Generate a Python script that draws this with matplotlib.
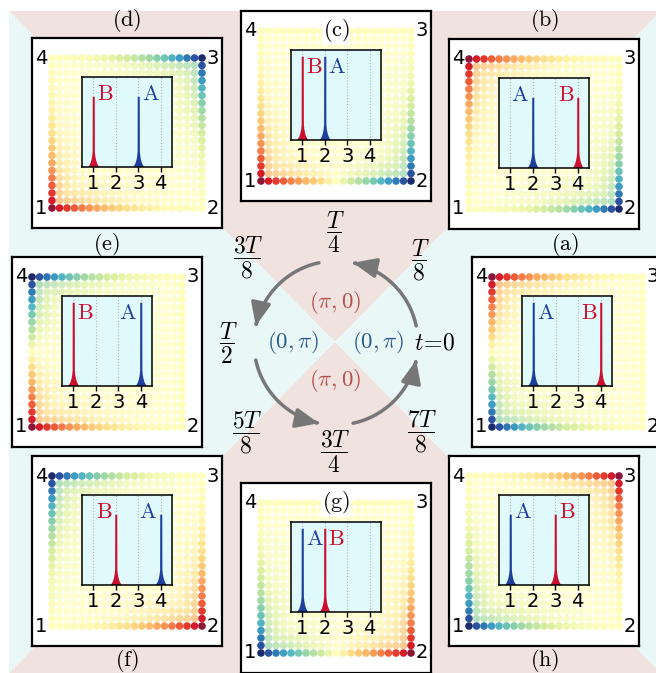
import numpy as np
import matplotlib
matplotlib.use('Agg')
import matplotlib.pyplot as plt
from matplotlib.colors import LinearSegmentedColormap, Normalize
from matplotlib.patches import Polygon, FancyArrowPatch
from matplotlib.path import Path

plt.rcParams['mathtext.fontset'] = 'cm'

# ---------------- data ----------------
panel_names = ['a', 'b', 'c', 'd', 'e', 'f', 'g', 'h']
pos_A = [1, 2, 2, 3, 4, 4, 1, 1]          # site of peak A (blue)
pos_B = [4, 4, 1, 1, 1, 2, 2, 3]          # site of peak B (red)
peak_height = [0.925, 0.78, 0.925, 0.78, 0.925, 0.78, 0.925, 0.78]
side_A = ['right', 'left', 'right', 'right', 'left', 'left', 'right', 'right']
side_B = ['left', 'left', 'right', 'right', 'right', 'left', 'right', 'right']
tick_labels = ['1', '2', '3', '4']
corner_labels = ['1', '2', '3', '4']

# edge colour profile from a corner along the edge
edge_profile = [1.0, 0.84, 0.74, 0.63, 0.53, 0.44, 0.36, 0.29, 0.23, 0.18, 0.14,
                0.11, 0.08, 0.06, 0.045, 0.03, 0.02, 0.015, 0.01, 0.005, 0.0]
ring_atten = [1.0, 0.32, 0.16, 0.08, 0.04]

# spike shape (half-width offsets and heights, fraction of inset)
spike_dx = [0.0, 0.045, 0.05, 0.07, 0.10, 0.14, 0.19, 0.24]
spike_base = [None, None, 0.17, 0.12, 0.08, 0.045, 0.02, 0.0]

cycle_texts = [r'$t\!=\!0$', r'$\dfrac{T}{8}$', r'$\dfrac{T}{4}$', r'$\dfrac{3T}{8}$',
               r'$\dfrac{T}{2}$', r'$\dfrac{5T}{8}$', r'$\dfrac{3T}{4}$', r'$\dfrac{7T}{8}$']
cycle_xy = [(435, 343), (420, 260), (335, 232), (248, 258),
            (228, 343), (247, 433), (335, 452), (422, 432)]
arc_ranges = [(12, 78), (102, 168), (192, 258), (282, 348)]

# ---------------- layout ----------------
W, H = 656, 673
fig = plt.figure(figsize=(W / 100, H / 100), dpi=100)

frame_lt = {'a': (472, 257), 'b': (449, 39), 'c': (241, 11), 'd': (32, 38),
            'e': (12, 257), 'f': (32, 456), 'g': (241, 483), 'h': (449, 456)}
title_xy = {'a': (565, 244), 'b': (545, 21), 'd': (127, 21), 'e': (106, 245),
            'f': (127, 660), 'h': (545, 660)}
FS = 190  # frame size px

PINK = '#f0e2de'
CYAN = '#eaf7f7'
BLUE = '#1f3f9f'
RED = '#cc1030'

cmap = LinearSegmentedColormap.from_list('edge', [
    (0.0, '#1d2a6b'), (0.075, '#2b4f9e'), (0.15, '#3288bd'), (0.225, '#4bb0c6'),
    (0.3, '#7bcbae'), (0.375, '#b0dea3'), (0.45, '#e2f2a0'), (0.5, '#ffffbf'),
    (0.56, '#fee590'), (0.65, '#fdbb6a'), (0.75, '#f7844c'), (0.85, '#e8452e'),
    (0.925, '#d2192b'), (1.0, '#8c1538')])
norm = Normalize(-1, 1)

# background
bg = fig.add_axes([0, 0, 1, 1])
bg.set_xlim(0, W)
bg.set_ylim(H, 0)
bg.axis('off')
x0s, x1s, y0s, y1s = 9, 661, 11, 673
cxs, cys = (x0s + x1s) / 2, (y0s + y1s) / 2
bg.add_patch(Polygon([(x0s, y0s), (x1s, y0s), (cxs, cys)], fc=PINK, ec='none'))
bg.add_patch(Polygon([(x0s, y1s), (x1s, y1s), (cxs, cys)], fc=PINK, ec='none'))
bg.add_patch(Polygon([(x0s, y0s), (x0s, y1s), (cxs, cys)], fc=CYAN, ec='none'))
bg.add_patch(Polygon([(x1s, y0s), (x1s, y1s), (cxs, cys)], fc=CYAN, ec='none'))

# central cycle
cx, cy, R = 336, 343, 82
for a0, a1 in arc_ranges:
    t = np.radians(np.linspace(a0, a1, 60))
    verts = np.column_stack([cx + R * np.cos(t), cy - R * np.sin(t)])
    arr = FancyArrowPatch(path=Path(verts),
                          arrowstyle='-|>,head_length=0.7,head_width=0.3',
                          mutation_scale=20, color='#777777', lw=2.5)
    bg.add_patch(arr)
for txt, (x, y) in zip(cycle_texts, cycle_xy):
    bg.text(x, y, txt, ha='center', va='center', fontsize=17)
bg.text(335, 303, r'$(\pi,0)$', color='#b45050', ha='center', va='center', fontsize=16.5)
bg.text(335, 381, r'$(\pi,0)$', color='#b45050', ha='center', va='center', fontsize=16.5)
bg.text(293, 343, r'$(0,\pi)$', color='#2a5a8c', ha='center', va='center', fontsize=16.5)
bg.text(378, 343, r'$(0,\pi)$', color='#2a5a8c', ha='center', va='center', fontsize=16.5)

corner_xy = {1: (0, 0), 2: (20, 0), 3: (20, 20), 4: (0, 20)}
N = 21


def corner_field(c):
    cxg, cyg = corner_xy[c]
    f = np.zeros((N, N))
    for i in range(N):
        for j in range(N):
            k = min(i, j, 20 - i, 20 - j)
            if k >= len(ring_atten):
                continue
            ccx = k if cxg == 0 else 20 - k
            ccy = k if cyg == 0 else 20 - k
            d = abs(i - ccx) + abs(j - ccy)
            if d < len(edge_profile):
                f[i, j] = ring_atten[k] * edge_profile[d]
    return f


ii, jj = np.meshgrid(np.arange(N), np.arange(N), indexing='ij')
ring = np.minimum(np.minimum(ii, jj), np.minimum(20 - ii, 20 - jj))

for n, name in enumerate(panel_names):
    L, T = frame_lt[name]
    ax = fig.add_axes([L / W, 1 - (T + FS) / H, FS / W, FS / H])
    m = 20 / 7.5
    ax.set_xlim(-m, 20 + m)
    ax.set_ylim(-m, 20 + m)
    ax.set_xticks([])
    ax.set_yticks([])
    ax.set_facecolor('white')
    for s in ax.spines.values():
        s.set_linewidth(1.6)
        s.set_color('black')

    val = corner_field(pos_B[n]) - corner_field(pos_A[n])
    cols = cmap(norm(val.ravel()))
    cols[:, 3] = np.where(ring.ravel() == 0, 1.0, 0.72)
    ax.scatter(ii.ravel(), jj.ravel(), s=30, c=cols, linewidths=0, zorder=1)

    for c, lab in zip([1, 2, 3, 4], corner_labels):
        gx, gy = corner_xy[c]
        ax.text(gx + (-1.4 if gx == 0 else 1.4), gy, lab, ha='center', va='center',
                fontsize=14, zorder=3)

    if name in ('c', 'g'):
        ax.text(10, 20, r'$\mathrm{(%s)}$' % name, ha='center', va='center', fontsize=16,
                zorder=4, bbox=dict(fc='white', ec='none', pad=0.3))
    else:
        tx, ty = title_xy[name]
        bg.text(tx, ty, r'$\mathrm{(%s)}$' % name, ha='center', va='center', fontsize=16)

    ins = ax.inset_axes([50 / FS, 61.5 / FS, 90 / FS, 90 / FS])
    ins.set_facecolor('#e0f9fb')
    ins.set_xlim(0.5, 4.5)
    ins.set_ylim(0, 1)
    ins.set_yticks([])
    ins.set_xticks([1, 2, 3, 4])
    ins.set_xticklabels(tick_labels, fontsize=14)
    ins.tick_params(axis='x', direction='out', length=3.5, width=1, pad=2)
    for s in ins.spines.values():
        s.set_linewidth(1.1)
    for g in [1, 2, 3, 4]:
        ins.axvline(g, color='#b8b8b8', lw=0.8, ls=':', zorder=0)

    for p, col in ((pos_A[n], BLUE), (pos_B[n], RED)):
        hts = [peak_height[n] if h is None else h for h in spike_base]
        dx = np.array(spike_dx)
        xs = np.concatenate([p - dx[::-1], p + dx])
        ys = np.concatenate([hts[::-1], hts])
        ins.fill_between(xs, 0, ys, color=col, lw=0, zorder=2)

    for p, side, lab, col in ((pos_A[n], side_A[n], 'A', BLUE), (pos_B[n], side_B[n], 'B', RED)):
        if side == 'right':
            ins.text(p + 0.15, 0.81, r'$\mathrm{%s}$' % lab, ha='left', va='center',
                     color=col, fontsize=16, zorder=3)
        else:
            ins.text(p - 0.15, 0.81, r'$\mathrm{%s}$' % lab, ha='right', va='center',
                     color=col, fontsize=16, zorder=3)

fig.savefig('out.png', dpi=100)
